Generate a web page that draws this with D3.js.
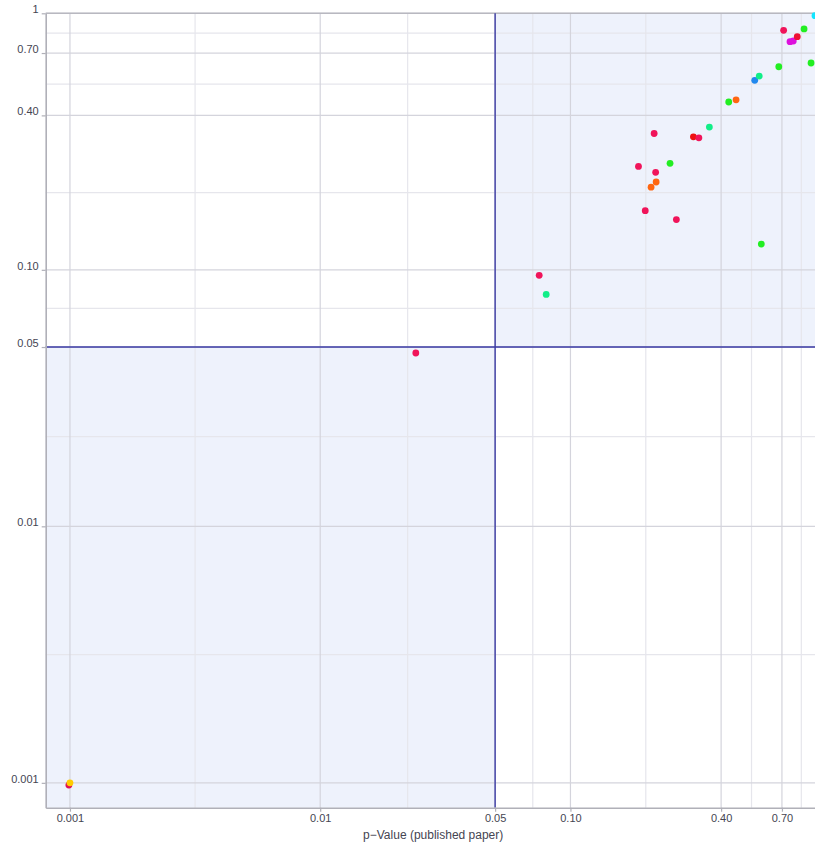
<!DOCTYPE html>
<html>
<head>
<meta charset="utf-8">
<script src="https://cdn.jsdelivr.net/npm/d3@7"></script>
<style>
  html, body { margin: 0; padding: 0; background: #fff; overflow: hidden; }
  svg { display: block; font-family: "Liberation Sans", Arial, sans-serif; }
</style>
</head>
<body>
<div id="chart"></div>
<script>
// ---- data ----
const tickValues = [0.001, 0.01, 0.05, 0.1, 0.4, 0.7, 1];
const tickLabels = ["0.001", "0.01", "0.05", "0.10", "0.40", "0.70", "1"];
const threshold = 0.05;
const xTitle = "p\u2212Value (published paper)";

const pPublished = [0.711, 0.858, 0.754, 0.777, 0.806, 0.949, 0.68, 0.915, 0.545, 0.568,
                    0.429, 0.459, 0.359, 0.216, 0.31, 0.326, 0.187, 0.25, 0.219, 0.22,
                    0.21, 0.199, 0.265, 0.579, 0.075, 0.08, 0.0241, 0.00099, 0.001];
const pReplication = [0.858, 0.869, 0.775, 0.78, 0.811, 0.979, 0.619, 0.64, 0.548, 0.569,
                      0.451, 0.46, 0.36, 0.34, 0.33, 0.327, 0.253, 0.26, 0.24, 0.22,
                      0.21, 0.17, 0.157, 0.126, 0.0952, 0.0802, 0.0474, 0.00098, 0.001];
const pointColors = ["#f0145a", "#22ee22", "#dd11dd", "#dd11dd", "#ee1133", "#11e5ff", "#22ee22", "#22ee22", "#2288ee", "#11ee88",
                     "#22ee22", "#ff6611", "#11ee88", "#f0145a", "#ee1111", "#f0145a", "#f0145a", "#22ee22", "#f0145a", "#ff6611",
                     "#ff6611", "#f0145a", "#f0145a", "#22ee22", "#f0145a", "#11ee88", "#f0145a", "#dd1155", "#ffcc00"];

// ---- layout ----
const W = 815, H = 851;
const mLeft = 45.7, mRight = 820.7, mTop = 13.3, mBottom = 807.7;
const domainMin = 0.0008, domainMax = 1;

const svg = d3.select("#chart").append("svg").attr("width", W).attr("height", H);

const x = d3.scaleLog().domain([domainMin, domainMax]).range([mLeft, mRight]);
const y = d3.scaleLog().domain([domainMin, domainMax]).range([mBottom, mTop]);

// shaded agreement quadrants
svg.append("rect")
  .attr("x", x(threshold)).attr("y", y(domainMax))
  .attr("width", x(domainMax) - x(threshold)).attr("height", y(threshold) - y(domainMax))
  .attr("fill", "#eef2fc");
svg.append("rect")
  .attr("x", x(domainMin)).attr("y", y(threshold))
  .attr("width", x(threshold) - x(domainMin)).attr("height", y(domainMin) - y(threshold))
  .attr("fill", "#eef2fc");

// minor grid: midpoints (in pixel space) between major ticks
const gx = svg.append("g");
for (let i = 0; i < tickValues.length - 1; i++) {
  const mx = (x(tickValues[i]) + x(tickValues[i + 1])) / 2;
  const my = (y(tickValues[i]) + y(tickValues[i + 1])) / 2;
  gx.append("line").attr("x1", mx).attr("x2", mx).attr("y1", mTop).attr("y2", mBottom)
    .attr("stroke", "#e6e6ec").attr("stroke-width", 1.2);
  gx.append("line").attr("x1", mLeft).attr("x2", mRight).attr("y1", my).attr("y2", my)
    .attr("stroke", "#e6e6ec").attr("stroke-width", 1.2);
}
// major grid
tickValues.forEach(v => {
  gx.append("line").attr("x1", x(v)).attr("x2", x(v)).attr("y1", mTop).attr("y2", mBottom)
    .attr("stroke", "#d4d4dc").attr("stroke-width", 1.2);
  gx.append("line").attr("x1", mLeft).attr("x2", mRight).attr("y1", y(v)).attr("y2", y(v))
    .attr("stroke", "#d4d4dc").attr("stroke-width", 1.2);
});

// top border
svg.append("line").attr("x1", mLeft).attr("x2", mRight).attr("y1", mTop).attr("y2", mTop)
  .attr("stroke", "#b8b8c0").attr("stroke-width", 1.5);

// threshold lines
svg.append("line").attr("x1", x(threshold)).attr("x2", x(threshold)).attr("y1", mTop).attr("y2", mBottom)
  .attr("stroke", "#3a3aa4").attr("stroke-width", 1.4);
svg.append("line").attr("x1", mLeft).attr("x2", mRight).attr("y1", y(threshold)).attr("y2", y(threshold))
  .attr("stroke", "#3a3aa4").attr("stroke-width", 1.4);

// points
svg.append("g").selectAll("circle")
  .data(pPublished.map((v, i) => ({ x: v, y: pReplication[i], c: pointColors[i] })))
  .join("circle")
  .attr("cx", d => x(d.x)).attr("cy", d => y(d.y)).attr("r", 3.4)
  .attr("fill", d => d.c);

// axes (x tick labels only where they fall inside the visible page)
const xTicksVisible = tickValues.filter(v => x(v) + 8 < W);
const xAxis = d3.axisBottom(x).tickValues(xTicksVisible)
  .tickFormat(d => tickLabels[tickValues.indexOf(d)])
  .tickSizeInner(4).tickSizeOuter(0).tickPadding(3);
const yAxis = d3.axisLeft(y).tickValues(tickValues).tickFormat((d, i) => tickLabels[i])
  .tickSizeInner(4).tickSizeOuter(0).tickPadding(3);

const xa = svg.append("g").attr("transform", `translate(0,${mBottom})`).call(xAxis);
const ya = svg.append("g").attr("transform", `translate(${mLeft},0)`).call(yAxis);

[xa, ya].forEach(a => {
  a.select(".domain").attr("stroke", "#b0b0b8").attr("stroke-width", 1.6);
  a.selectAll(".tick line").attr("stroke", "#b0b0b8").attr("stroke-width", 1.2);
  a.selectAll(".tick text").attr("fill", "#454552").attr("font-size", 11)
    .attr("font-family", "'Liberation Sans', Arial, sans-serif");
});
ya.selectAll(".tick text").attr("dy", "-0.05em");

svg.append("text")
  .attr("x", (mLeft + mRight) / 2).attr("y", 839)
  .attr("text-anchor", "middle").attr("font-size", 12).attr("fill", "#454552")
  .text(xTitle);
</script>
</body>
</html>
